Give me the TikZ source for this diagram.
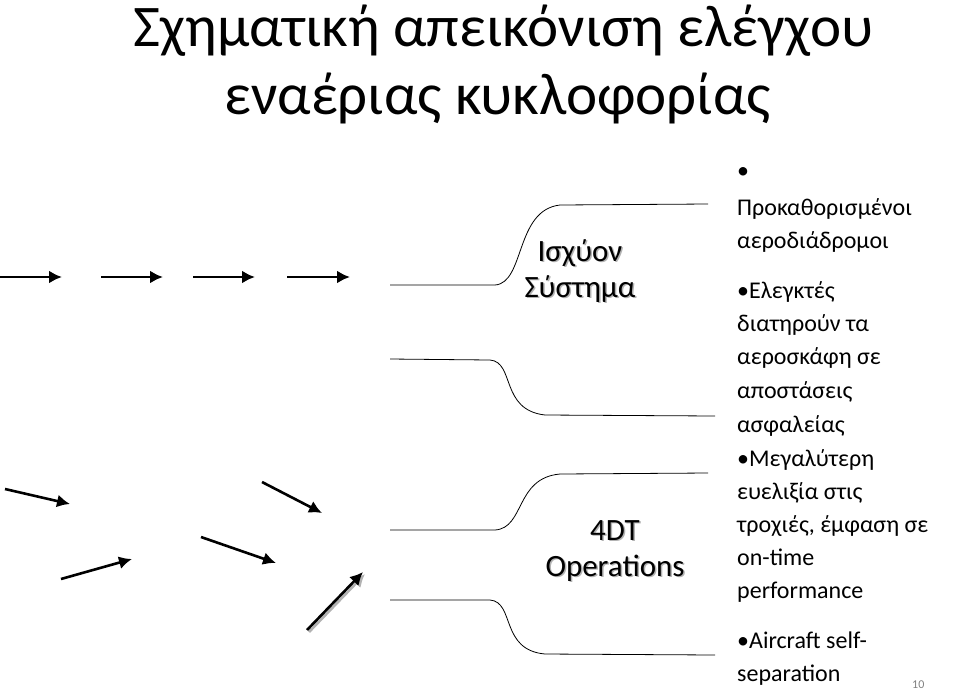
\documentclass[tikz,border=0pt]{standalone}
\usepackage{fontspec}
\setmainfont{Carlito}
\usetikzlibrary{arrows.meta}
\begin{document}
\begin{tikzpicture}[x=1pt,y=1pt,
 arr/.style={line width=2.6pt,-{Latex[length=13pt,width=13pt]}},
 fun/.style={line width=0.8pt},
 body/.style={anchor=base west,inner sep=0,font=\fontsize{24}{27}\selectfont},
 lbl/.style={font=\fontsize{31}{36}\selectfont,align=center}]
\useasboundingbox (0,0) rectangle (960,-691);
% title
\node[anchor=base west,inner sep=0,font=\fontsize{59}{66}\selectfont] (t1) at (133,-46) {Σχηματική απεικόνιση ελέγχου};
\node[anchor=base west,inner sep=0,font=\fontsize{59}{66}\selectfont] (t2) at (224,-114) {εναέριας κυκλοφορίας};
% funnels
\draw[fun] (390,-285) -- (495,-285) .. controls (525,-283) and (515,-210) .. (560,-205) -- (708,-204);
\draw[fun] (390,-359) -- (490,-360) .. controls (515,-362) and (500,-410) .. (545,-415) -- (715,-416);
\draw[fun] (390,-530) -- (495,-530) .. controls (525,-528) and (515,-478) .. (560,-474) -- (708,-473);
\draw[fun] (390,-600) -- (490,-600) .. controls (515,-602) and (500,-650) .. (545,-654) -- (715,-655);
\node[lbl,gray!60] at (581.5,-272.5) {Ισχύον\\Σύστημα};
\node[lbl] (s1) at (580,-271) {Ισχύον\\Σύστημα};
\node[lbl,gray!60] at (616.5,-552.5) {4DT\\Operations};
\node[lbl] (s2) at (615,-551) {4DT\\Operations};
% arrows
\coordinate (a1) at (0,-277); \coordinate (b1) at (62,-277);
\coordinate (a2) at (101,-277); \coordinate (b2) at (163,-277);
\coordinate (a3) at (193,-277); \coordinate (b3) at (255,-277);
\coordinate (a4) at (287,-277); \coordinate (b4) at (350,-277);
\draw[arr] (a1) -- (b1);
\draw[arr] (a2) -- (b2);
\draw[arr] (a3) -- (b3);
\draw[arr] (a4) -- (b4);
\coordinate (c1) at (5,-489); \coordinate (d1) at (70,-504);
\coordinate (c2) at (262,-482); \coordinate (d2) at (322,-513);
\coordinate (c3) at (201,-537); \coordinate (d3) at (276,-563);
\coordinate (c4) at (61,-579); \coordinate (d4) at (132,-559);
\coordinate (c5) at (307,-630); \coordinate (d5) at (363,-572);
\coordinate (c6) at (309,-632); \coordinate (d6) at (365,-574);
\draw[arr,gray!60] (c6) -- (d6);
\draw[arr] (c1) -- (d1);
\draw[arr] (c2) -- (d2);
\draw[arr] (c3) -- (d3);
\draw[arr] (c4) -- (d4);
\draw[arr] (c5) -- (d5);
% text
\node[body] (l0) at (737,-178) {•};
\node[body] (l1) at (737,-215) {Προκαθορισμένοι};
\node[body] (l2) at (737,-248) {αεροδιάδρομοι};
\node[body] (l3) at (737,-298) {•Ελεγκτές};
\node[body] (l4) at (737,-331) {διατηρούν τα};
\node[body] (l5) at (737,-364) {αεροσκάφη σε};
\node[body] (l6) at (737,-398) {αποστάσεις};
\node[body] (l7) at (737,-432) {ασφαλείας};
\node[body] (l8) at (737,-466) {•Μεγαλύτερη};
\node[body] (l9) at (737,-499) {ευελιξία στις};
\node[body] (l10) at (737,-532) {τροχιές, έμφαση σε};
\node[body] (l11) at (737,-565) {on-time};
\node[body] (l12) at (737,-598) {performance};
\node[body] (l13) at (737,-648) {•Aircraft self-};
\node[body] (l14) at (737,-681) {separation};
\node[anchor=base west,inner sep=0,font=\fontsize{12}{14}\selectfont,gray] (pg) at (912,-688) {10};
\end{tikzpicture}
\end{document}
